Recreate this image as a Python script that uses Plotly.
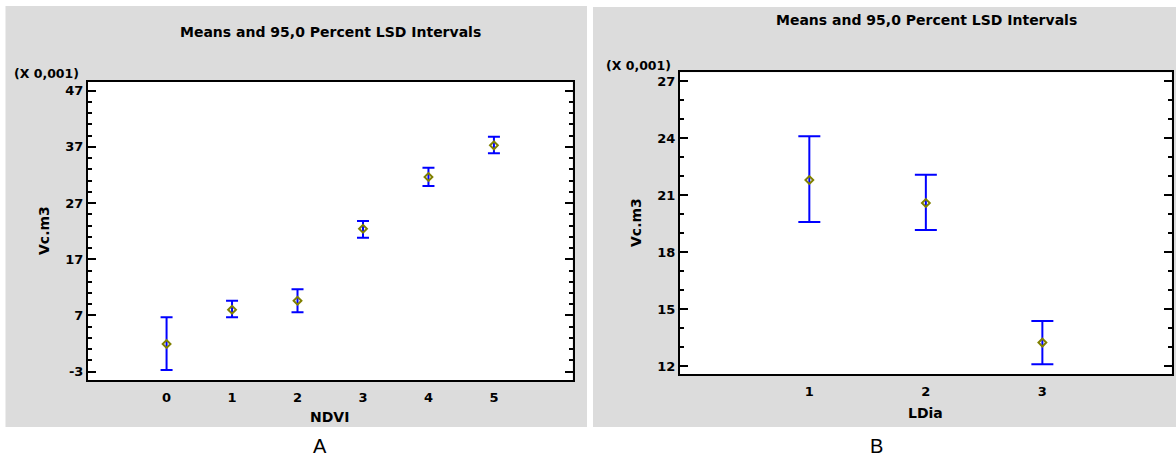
import plotly.graph_objects as go

# ---- data (values in units of 0.001) ----
ndvi_cats = [0, 1, 2, 3, 4, 5]
ndvi_mean = [1.92, 8.03, 9.63, 22.44, 31.64, 37.27]
ndvi_low = [-2.70, 6.67, 7.56, 20.84, 30.04, 35.85]
ndvi_high = [6.67, 9.63, 11.65, 23.81, 33.30, 38.81]
ndvi_yticks = [-3, 7, 17, 27, 37, 47]

ldia_cats = [1, 2, 3]
ldia_mean = [21.79, 20.58, 13.23]
ldia_low = [19.58, 19.16, 12.09]
ldia_high = [24.09, 22.07, 14.37]
ldia_yticks = [12, 15, 18, 21, 24, 27]

title_text = "Means and 95,0 Percent LSD Intervals"
y_title = "Vc.m3"
scale_text = "(X 0,001)"

W, H = 1176, 459
def px(x):
    return x / W
def py(y):
    return 1 - y / H

FONT = "DejaVu Sans"
GRAY = "#DCDCDC"
BLUE = "#0000FF"
OLIVE = "#808000"

fig = go.Figure()

fig.add_trace(go.Scatter(
    x=ndvi_cats, y=ndvi_mean, mode="markers",
    marker=dict(symbol="diamond-open", size=6, color=OLIVE, line=dict(width=2, color=OLIVE)),
    error_y=dict(type="data", symmetric=False,
                 array=[h - m for h, m in zip(ndvi_high, ndvi_mean)],
                 arrayminus=[m - l for l, m in zip(ndvi_low, ndvi_mean)],
                 color=BLUE, thickness=2, width=6),
    xaxis="x", yaxis="y", showlegend=False, cliponaxis=False, hoverinfo="skip"))

fig.add_trace(go.Scatter(
    x=ldia_cats, y=ldia_mean, mode="markers",
    marker=dict(symbol="diamond-open", size=6, color=OLIVE, line=dict(width=2, color=OLIVE)),
    error_y=dict(type="data", symmetric=False,
                 array=[h - m for h, m in zip(ldia_high, ldia_mean)],
                 arrayminus=[m - l for l, m in zip(ldia_low, ldia_mean)],
                 color=BLUE, thickness=2, width=11),
    xaxis="x2", yaxis="y2", showlegend=False, cliponaxis=False, hoverinfo="skip"))

tickfont = dict(family=FONT, size=13, color="black", weight="bold")
axis_common = dict(showline=True, linewidth=2, linecolor="black", mirror=True,
                   showgrid=False, zeroline=False, tickfont=tickfont)

fig.update_layout(
    width=W, height=H,
    margin=dict(l=0, r=0, t=0, b=0),
    paper_bgcolor="white", plot_bgcolor="white",
    xaxis=dict(domain=[px(88), px(572.5)], range=[-1.2, 6.2], tickvals=ndvi_cats,
               ticks="", ticklabelstandoff=4, anchor="y", **axis_common),
    yaxis=dict(domain=[py(380), py(81.7)], range=[-4.48, 48.6],
               tickvals=ndvi_yticks, ticktext=[str(v) for v in ndvi_yticks],
               ticks="inside", ticklen=8, tickwidth=2, tickcolor="black",
               minor=dict(ticks="inside", dtick=2, tick0=-3, ticklen=4, tickwidth=2, tickcolor="black"),
               anchor="x", **{**axis_common, "mirror": "ticks"}),
    xaxis2=dict(domain=[px(680), px(1171.7)], range=[-0.11, 4.11], tickvals=ldia_cats,
                ticks="", ticklabelstandoff=4, anchor="y2", **axis_common),
    yaxis2=dict(domain=[py(374.3), py(72.3)], range=[11.56, 27.46],
                tickvals=ldia_yticks, ticktext=[str(v) for v in ldia_yticks],
                ticks="inside", ticklen=8, tickwidth=2, tickcolor="black",
                minor=dict(ticks="inside", dtick=1, tick0=12, ticklen=4, tickwidth=2, tickcolor="black"),
                anchor="x2", **{**axis_common, "mirror": "ticks"}),
)

# panel backgrounds
fig.add_shape(type="rect", xref="paper", yref="paper", x0=px(5.5), x1=px(587), y0=py(427), y1=py(6),
              fillcolor=GRAY, line=dict(width=0), layer="below")
fig.add_shape(type="rect", xref="paper", yref="paper", x0=px(593), x1=px(1176), y0=py(427), y1=py(7),
              fillcolor=GRAY, line=dict(width=0), layer="below")
fig.add_shape(type="rect", xref="paper", yref="paper", x0=px(88), x1=px(572.5), y0=py(380), y1=py(81.7),
              fillcolor="white", line=dict(width=0), layer="below")
fig.add_shape(type="rect", xref="paper", yref="paper", x0=px(680), x1=px(1171.7), y0=py(374.3), y1=py(72.3),
              fillcolor="white", line=dict(width=0), layer="below")

bold = dict(family=FONT, color="black", weight="bold")
ann = []
ann.append(dict(text=title_text, x=px(330), y=py(32), font=dict(size=14, **bold)))
ann.append(dict(text=title_text, x=px(926), y=py(20.5), font=dict(size=14, **bold)))
ann.append(dict(text=scale_text, x=px(81), y=py(74), xanchor="right", font=dict(size=12.5, **bold)))
ann.append(dict(text=scale_text, x=px(673), y=py(65.5), xanchor="right", font=dict(size=12.5, **bold)))
ann.append(dict(text=y_title, x=px(44), y=py(231), textangle=-90, font=dict(size=14, **bold)))
ann.append(dict(text=y_title, x=px(636), y=py(223), textangle=-90, font=dict(size=14, **bold)))
ann.append(dict(text="NDVI", x=px(329), y=py(417), font=dict(size=14, **bold)))
ann.append(dict(text="LDia", x=px(925), y=py(413), font=dict(size=14, **bold)))
ann.append(dict(text="A", x=px(320), y=py(446), font=dict(family="Liberation Sans", size=20, color="black")))
ann.append(dict(text="B", x=px(876), y=py(446), font=dict(family="Liberation Sans", size=20, color="black")))
for a in ann:
    a.setdefault("xanchor", "center")
    a.update(xref="paper", yref="paper", yanchor="middle", showarrow=False)
fig.update_layout(annotations=ann)

fig.write_html("out.html", config={"displayModeBar": False},
               post_script="document.body.style.margin='0';document.body.style.overflow='hidden';")
